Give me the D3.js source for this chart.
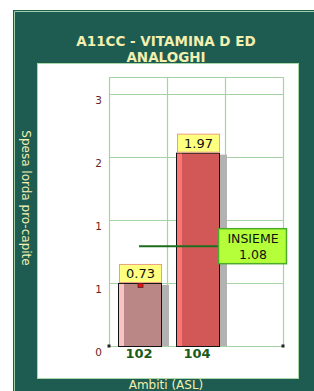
<!DOCTYPE html>
<html lang="it">
<head>
<meta charset="utf-8">
<script src="https://cdn.jsdelivr.net/npm/d3@7/dist/d3.min.js"></script>
<style>
  body { margin: 0; background: #fff; }
  text { font-family: "DejaVu Sans", Verdana, sans-serif; }
</style>
</head>
<body>
<svg id="chart" width="314" height="391"></svg>
<script>
// data
var categories = ["102", "104", ""];
var values = [0.73, 1.97, null];
var highlighted = ["102"];
var insiemeValue = 1.08;
var yTicks = [0.13, 0.73, 1.33, 1.93, 2.53];
var yTickLabels = ["0", "1", "1", "2", "3"];
var yDomain = [0.13, 2.69];

var svg = d3.select("#chart");

// dark green panel + white inner box
svg.append("rect").attr("x", 13).attr("y", 10).attr("width", 310).attr("height", 390)
  .attr("fill", "#1e5c52");
svg.append("path").attr("d", "M14.5,400 V11.5 H314")
  .attr("fill", "none").attr("stroke", "#9fd0a8").attr("stroke-width", 1);
svg.append("rect").attr("x", 37.5).attr("y", 63.5).attr("width", 261).attr("height", 315)
  .attr("fill", "#fff").attr("stroke", "#a8d8a8").attr("stroke-width", 1);

// titles
var title = svg.append("text").attr("text-anchor", "middle")
  .attr("fill", "#f2efb0").attr("font-size", 13.5).attr("font-weight", "bold");
title.append("tspan").attr("x", 166).attr("y", 46).text("A11CC - VITAMINA D ED");
title.append("tspan").attr("x", 166).attr("y", 62).text("ANALOGHI");

svg.append("text").attr("transform", "translate(22,198) rotate(90)")
  .attr("text-anchor", "middle").attr("fill", "#f2efb0").attr("font-size", 12)
  .text("Spesa lorda pro-capite");

svg.append("text").attr("x", 166).attr("y", 389).attr("text-anchor", "middle")
  .attr("fill", "#f2efb0").attr("font-size", 12).text("Ambiti (ASL)");

// scales
var x = d3.scaleBand().domain(categories).range([109, 283]).padding(0);
var y = d3.scaleLinear().domain(yDomain).range([346, 77]);

// grid
var g = svg.append("g");
g.selectAll("line.h").data(yTicks.concat([yDomain[1]])).enter().append("line")
  .attr("x1", 109).attr("x2", 283)
  .attr("y1", function(d) { return Math.round(y(d)) + 0.5; })
  .attr("y2", function(d) { return Math.round(y(d)) + 0.5; })
  .attr("stroke", "#a6d2a6").attr("stroke-width", 1.2);
g.selectAll("line.v").data(categories.map(function(c) { return x(c); }).concat([283])).enter().append("line")
  .attr("x1", function(d) { return Math.round(d) + 0.5; })
  .attr("x2", function(d) { return Math.round(d) + 0.5; })
  .attr("y1", 77).attr("y2", 346)
  .attr("stroke", "#a6d2a6").attr("stroke-width", 1.2);

// y tick labels
g.selectAll("text.yt").data(yTicks).enter().append("text")
  .attr("x", 102).attr("y", function(d) { return y(d) + 10; })
  .attr("text-anchor", "end").attr("fill", "#6a1e22").attr("font-size", 10.5)
  .text(function(d, i) { return yTickLabels[i]; });

// x tick labels
g.selectAll("text.xt").data(categories).enter().append("text")
  .attr("x", function(d) { return x(d) + 30; }).attr("y", 358)
  .attr("text-anchor", "middle").attr("fill", "#1a5a1a").attr("font-size", 13)
  .attr("font-weight", "bold").text(function(d) { return d; });

// bars
var barW = 44;
var bars = categories.map(function(c, i) { return { c: c, v: values[i] }; })
  .filter(function(d) { return d.v != null; });

svg.selectAll("rect.shadow").data(bars).enter().append("rect")
  .attr("x", function(d) { return x(d.c) + 16; })
  .attr("y", function(d) { return y(d.v) + 2; })
  .attr("width", barW).attr("height", function(d) { return 346 - y(d.v) - 2; })
  .attr("fill", "#b2b2b2");

svg.selectAll("rect.bar").data(bars).enter().append("rect")
  .attr("x", function(d) { return x(d.c) + 9.5; })
  .attr("y", function(d) { return y(d.v) + 0.5; })
  .attr("width", barW - 1).attr("height", function(d) { return 346 - y(d.v); })
  .attr("fill", function(d) { return highlighted.indexOf(d.c) >= 0 ? "#bb8686" : "#d25858"; })
  .attr("stroke", "#111").attr("stroke-width", 1);

svg.selectAll("rect.light").data(bars).enter().append("rect")
  .attr("x", function(d) { return x(d.c) + 10; })
  .attr("y", function(d) { return y(d.v) + 1; })
  .attr("width", 5).attr("height", function(d) { return 345 - y(d.v); })
  .attr("fill", function(d) { return highlighted.indexOf(d.c) >= 0 ? "#f6c4c4" : "#ff7474"; });

// red marker on highlighted bar
svg.selectAll("rect.mark").data(bars.filter(function(d) { return highlighted.indexOf(d.c) >= 0; }))
  .enter().append("rect")
  .attr("x", function(d) { return x(d.c) + 29; }).attr("y", function(d) { return y(d.v) + 0.5; })
  .attr("width", 5).attr("height", 4)
  .attr("fill", "#ee1010").attr("stroke", "#552222").attr("stroke-width", 0.8);

// value labels
var lab = svg.selectAll("g.lab").data(bars).enter().append("g");
lab.append("rect")
  .attr("x", function(d) { return x(d.c) + 10.5; })
  .attr("y", function(d) { return y(d.v) - 18.5; })
  .attr("width", 42).attr("height", 18)
  .attr("fill", "#ffff80").attr("stroke", "#e8a080").attr("stroke-width", 1);
lab.append("text")
  .attr("x", function(d) { return x(d.c) + 31.5; })
  .attr("y", function(d) { return y(d.v) - 4.5; })
  .attr("text-anchor", "middle").attr("font-size", 13).attr("fill", "#111")
  .text(function(d) { return d3.format(".2f")(d.v); });

// INSIEME reference
var yi = y(insiemeValue);
svg.append("line").attr("x1", x("102") + 30).attr("x2", 218)
  .attr("y1", yi).attr("y2", yi).attr("stroke", "#1c6e1c").attr("stroke-width", 2);
svg.append("rect").attr("x", 218.5).attr("y", yi - 17.5).attr("width", 68).attr("height", 35)
  .attr("fill", "#b4ff3a").attr("stroke", "#4caa2c").attr("stroke-width", 1.5);
svg.append("text").attr("x", 253).attr("y", yi - 3).attr("text-anchor", "middle")
  .attr("font-size", 12.5).attr("fill", "#111").text("INSIEME");
svg.append("text").attr("x", 253).attr("y", yi + 13).attr("text-anchor", "middle")
  .attr("font-size", 12.5).attr("fill", "#111").text(d3.format(".2f")(insiemeValue));

// corner dots
svg.selectAll("rect.dot").data([109, 283]).enter().append("rect")
  .attr("x", function(d) { return d - 1.5; }).attr("y", 344.5).attr("width", 3).attr("height", 3)
  .attr("fill", "#222");
</script>
</body>
</html>
